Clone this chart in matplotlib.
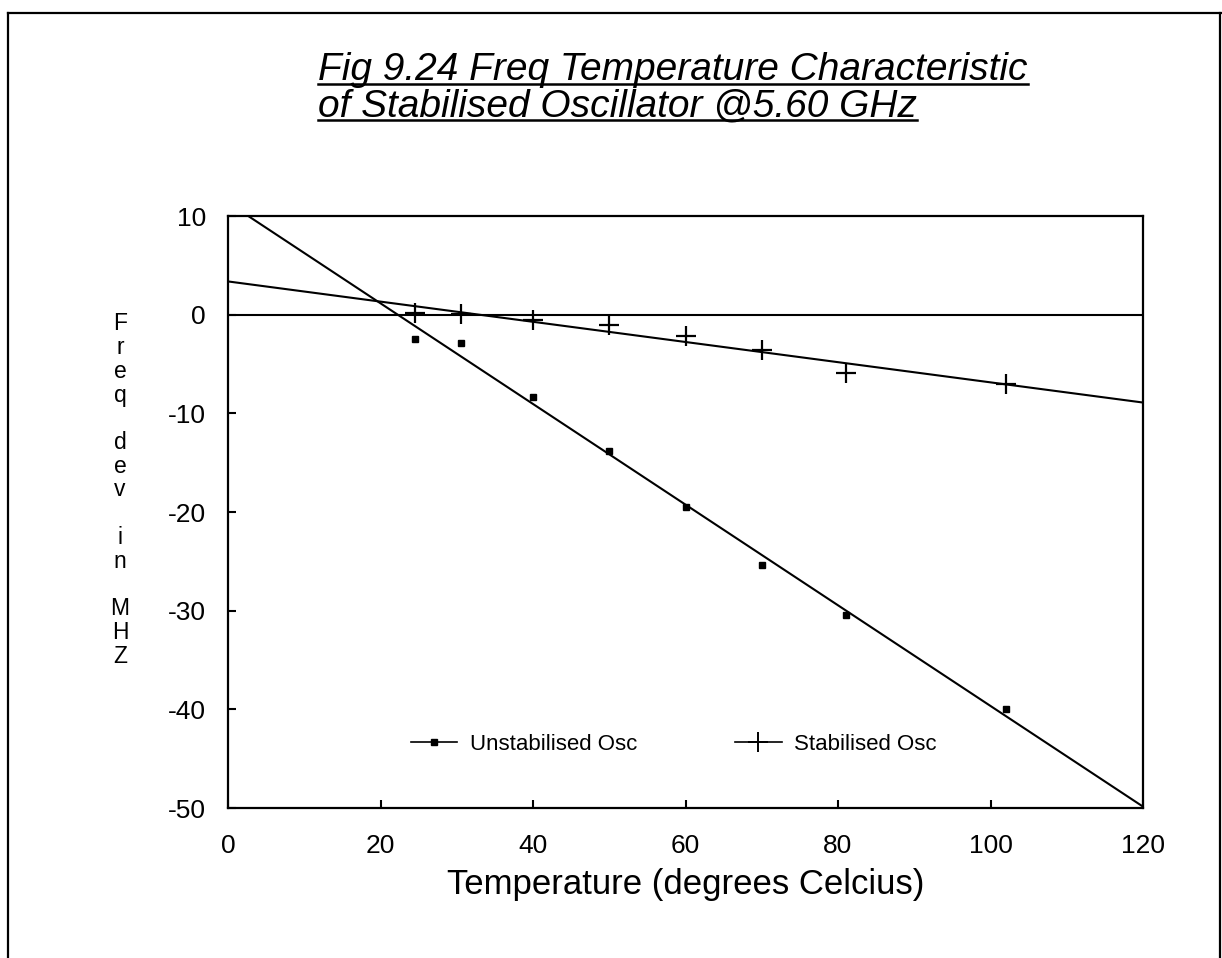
import numpy as np
import matplotlib
matplotlib.use("Agg")
import matplotlib.pyplot as plt
from matplotlib.lines import Line2D

# Measured frequency deviation (MHz) versus temperature (deg C)
temperature = [24.5, 30.5, 40, 50, 60, 70, 81, 102]
unstabilised = [-2.5, -2.9, -8.3, -13.8, -19.5, -25.4, -30.4, -40.0]
stabilised = [0.2, 0.1, -0.5, -1.0, -2.2, -3.6, -5.9, -7.0]

x_ticks = [0, 20, 40, 60, 80, 100, 120]
y_ticks = [10, 0, -10, -20, -30, -40, -50]
title_lines = ["Fig 9.24 Freq Temperature Characteristic",
               "of Stabilised Oscillator @5.60 GHz"]
series_names = ["Unstabilised Osc", "Stabilised Osc"]

plt.rcParams["font.family"] = ["Liberation Sans", "DejaVu Sans"]
plt.rcParams["axes.unicode_minus"] = False

W, H = 1222, 958
fig = plt.figure(figsize=(W / 100, H / 100), dpi=100)
ax = fig.add_axes([228 / W, 1 - 808 / H, (1143 - 228) / W, (808 - 216) / H])

ax.set_xlim(0, 120)
ax.set_ylim(-50, 10)

# least-squares straight lines through each data set
xfit = np.array([0.0, 120.0])
for ys in (unstabilised, stabilised):
    m, c = np.polyfit(temperature, ys, 1)
    ax.plot(xfit, m * xfit + c, color="black", lw=1.5, zorder=2)

ax.axhline(0, color="black", lw=1.5, zorder=2)

ax.plot(temperature, unstabilised, linestyle="none", marker="s",
        markersize=5, color="black", zorder=3)
ax.plot(temperature, stabilised, linestyle="none", marker="+",
        markersize=15, markeredgewidth=1.6, color="black", zorder=3)

ax.set_xticks(x_ticks)
ax.set_yticks(y_ticks)
ax.tick_params(direction="in", length=6, width=1.5, labelsize=19,
               top=False, right=False)
ax.tick_params(axis="x", pad=19)
ax.tick_params(axis="y", pad=16)
for s in ax.spines.values():
    s.set_linewidth(1.6)

ax.set_xlabel("Temperature (degrees Celcius)", fontsize=25, labelpad=7)

ylab = "F\nr\ne\nq\n\nd\ne\nv\n\ni\nn\n\nM\nH\nZ"
fig.text(120 / W, 1 - 490 / H, ylab, fontsize=16.5, ha="center",
         va="center", linespacing=1.04)

handles = [
    Line2D([], [], color="black", lw=1.2, marker="s", markersize=4),
    Line2D([], [], color="black", lw=1.2, marker="+", markersize=15,
           markeredgewidth=1.4),
]
ax.legend(handles, series_names, ncol=2, frameon=False, fontsize=16,
          loc="center", bbox_to_anchor=(0.487, 0.107), handlelength=2.1,
          handletextpad=0.55, columnspacing=4.4)

# two-line underlined italic title
fig.canvas.draw()
renderer = fig.canvas.get_renderer()
baselines = [1 - 80 / H, 1 - 116 / H]
for text, yb in zip(title_lines, baselines):
    t = fig.text(318 / W, yb, text, fontsize=28, style="italic",
                 ha="left", va="baseline")
    bb = t.get_window_extent(renderer).transformed(fig.transFigure.inverted())
    fig.add_artist(Line2D([bb.x0, bb.x1], [yb - 4 / H, yb - 4 / H],
                          color="black", lw=1.8, transform=fig.transFigure))

# page frame
fr = dict(color="black", lw=1.6, transform=fig.transFigure)
fig.add_artist(Line2D([8 / W, 8 / W], [0, 1 - 13 / H], **fr))
fig.add_artist(Line2D([8 / W, 1], [1 - 13 / H, 1 - 13 / H], **fr))
fig.add_artist(Line2D([1220 / W, 1220 / W], [0, 1 - 13 / H], **fr))

fig.savefig("out.png", dpi=100)
